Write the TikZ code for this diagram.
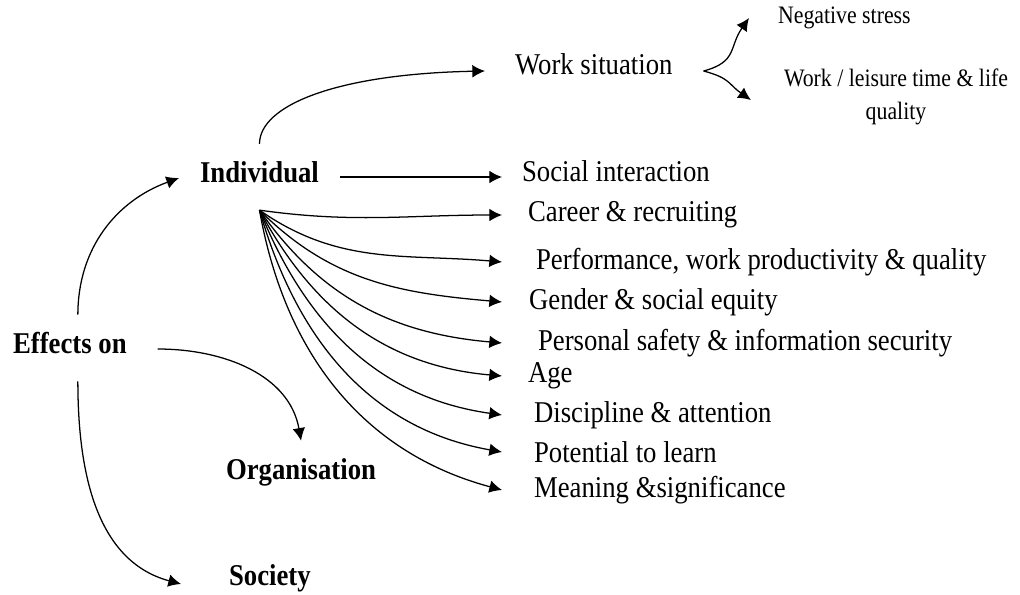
\documentclass[tikz,border=0pt]{standalone}
\usepackage{fontspec}
\setmainfont{Liberation Serif}
\usetikzlibrary{arrows.meta,calc}

\begin{document}
\begin{tikzpicture}[
    x=0.025cm, y=-0.025cm,
    item/.style={anchor=west, inner sep=2pt, yscale=1.13, transform shape,
                 font=\fontsize{19}{23}\selectfont},
    head/.style={anchor=west, inner sep=2pt, yscale=1.13, transform shape,
                 font=\fontsize{19}{23}\selectfont\bfseries},
    note/.style={inner sep=2pt, yscale=1.15, transform shape,
                 font=\fontsize{15.5}{20}\selectfont},
    arrow/.style={-{Latex[length=9pt,width=9pt]}, line width=0.9pt}
]
\useasboundingbox (0,0) rectangle (1020,594);

% left column
\node[head] (eff) at (10,343) {Effects on};
\node[head] (ind) at (197,172) {Individual};
\node[head] (org) at (223,472) {Organisation};
\node[head] (soc) at (226,578) {Society};

% work situation and its two outcomes
\node[item] (work) at (512,64) {Work situation};
\node[note, anchor=west] (neg) at (775,18) {Negative stress};
\node[note, align=center] (life) at (896,97) {Work / leisure time \& life\\quality};

% effects on the individual
\node[item] (s1) at (519,171) {Social interaction};
\node[item] (s2) at (525,215) {Career \& recruiting};
\node[item] (s3) at (533,262) {Performance, work productivity \& quality};
\node[item] (s4) at (526,302) {Gender \& social equity};
\node[item] (s5) at (535,343) {Personal safety \& information security};
\node[item] (s6) at (525,376) {Age};
\node[item] (s7) at (531,415) {Discipline \& attention};
\node[item] (s8) at (531,452) {Potential to learn};
\node[item] (s9) at (531,490) {Meaning \&significance};

\coordinate (fan) at ($(ind.south)+(0,24)$);
\coordinate (tips) at (502,0);
\coordinate (ia) at ($(ind.east)+(18,5)$);

\draw[arrow] ($(eff.north)+(8,-14)$) to[out=90, in=200] ($(ind.west)+(-18,6)$);
\draw[arrow] ($(eff.east)+(28,6)$) to[out=0, in=100] ($(org.north)+(0,-14)$);
\draw[arrow] ($(eff.south)+(8,24)$) to[out=-90, in=165] ($(soc.west)+(-45,6)$);

\draw[arrow] ($(ind.north)+(0,-14)$) .. controls +(0,-38) and +(-150,3) .. ($(work.west)+(-27,7)$);
\draw[arrow] ($(work.east)+(28,7)$) to[out=15, in=235, looseness=1.3] ($(neg.west)+(-26,0)$);
\draw[arrow] ($(work.east)+(28,7)$) to[out=-15, in=145, looseness=1.3] ($(life.west)+(-30,3)$);

\draw[arrow] (ia) -- (ia -| tips);
\draw[arrow] (fan) to[out=-8, in=180] (tips |- s2.west);
\draw[arrow] (fan) to[out=-35, in=175] (tips |- s3.west);
\draw[arrow] (fan) to[out=-45, in=175] (tips |- s4.west);
\draw[arrow] (fan) to[out=-55, in=175] (tips |- s5.west);
\draw[arrow] (fan) to[out=-62, in=175] (tips |- s6.west);
\draw[arrow] (fan) to[out=-68, in=172] (tips |- s7.west);
\draw[arrow] (fan) to[out=-74, in=170] (tips |- s8.west);
\draw[arrow] (fan) to[out=-80, in=165] (tips |- s9.west);
\end{tikzpicture}
\end{document}
